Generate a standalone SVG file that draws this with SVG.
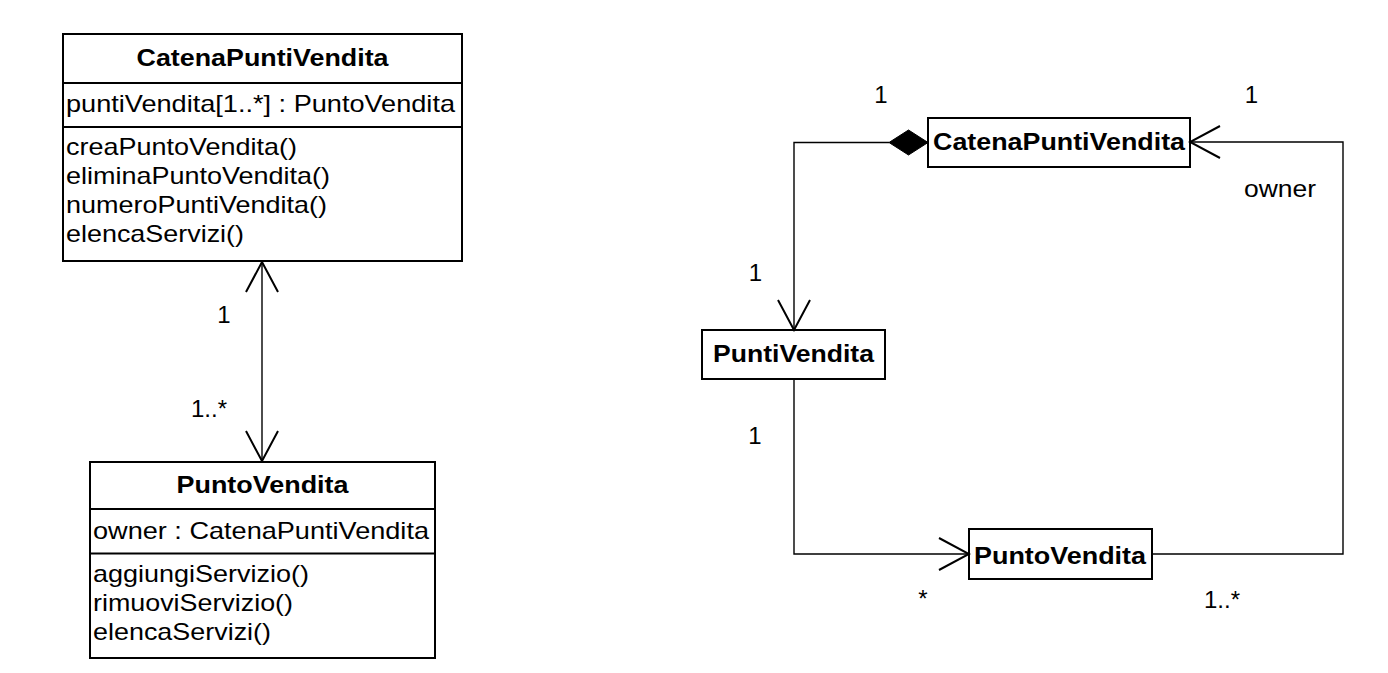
<svg xmlns="http://www.w3.org/2000/svg" width="1388" height="673" viewBox="0 0 1388 673">
<defs>
<style>
.box{fill:#fff;stroke:#000;stroke-width:2}
.div{stroke:#000;stroke-width:2}
.t{font-family:"Liberation Sans",Arial,Helvetica,sans-serif;font-size:24px;fill:#000}
.b{font-weight:bold}
.m{text-anchor:middle}
.conn{fill:none;stroke:#000;stroke-width:1.4}
</style>
<marker id="open" markerUnits="userSpaceOnUse" viewBox="0 0 34 36" refX="32" refY="18" markerWidth="34" markerHeight="36" orient="auto-start-reverse">
<path d="M2,2 L32,18 L2,34" fill="none" stroke="#000" stroke-width="2"/>
</marker>
</defs>
<rect width="1388" height="673" fill="#fff"/>

<g id="left-catena">
<rect class="box" x="63" y="34" width="399" height="227"/>
<line class="div" x1="63" y1="83" x2="462" y2="83"/>
<line class="div" x1="63" y1="127" x2="462" y2="127"/>
<text class="t b m" x="262.5" y="66" textLength="252" lengthAdjust="spacingAndGlyphs">CatenaPuntiVendita</text>
<text class="t" x="66" y="112" textLength="389" lengthAdjust="spacingAndGlyphs">puntiVendita[1..*] : PuntoVendita</text>
<text class="t" x="66" y="155" textLength="231" lengthAdjust="spacingAndGlyphs">creaPuntoVendita()</text>
<text class="t" x="66" y="184" textLength="264" lengthAdjust="spacingAndGlyphs">eliminaPuntoVendita()</text>
<text class="t" x="66" y="213" textLength="261" lengthAdjust="spacingAndGlyphs">numeroPuntiVendita()</text>
<text class="t" x="66" y="242" textLength="178" lengthAdjust="spacingAndGlyphs">elencaServizi()</text>
</g>

<g id="left-punto">
<rect class="box" x="90" y="462" width="345" height="196"/>
<line class="div" x1="90" y1="509" x2="435" y2="509"/>
<line class="div" x1="90" y1="553.5" x2="435" y2="553.5"/>
<text class="t b m" x="262.5" y="493" textLength="172" lengthAdjust="spacingAndGlyphs">PuntoVendita</text>
<text class="t" x="93" y="538.5" textLength="336" lengthAdjust="spacingAndGlyphs">owner : CatenaPuntiVendita</text>
<text class="t" x="93" y="582" textLength="216" lengthAdjust="spacingAndGlyphs">aggiungiServizio()</text>
<text class="t" x="93" y="611" textLength="200" lengthAdjust="spacingAndGlyphs">rimuoviServizio()</text>
<text class="t" x="93" y="640" textLength="178" lengthAdjust="spacingAndGlyphs">elencaServizi()</text>
</g>

<g id="right-catena">
<rect class="box" x="928" y="118" width="262" height="49"/>
<text class="t b m" x="1059" y="150" textLength="252" lengthAdjust="spacingAndGlyphs">CatenaPuntiVendita</text>
</g>

<g id="right-punti">
<rect class="box" x="702" y="330" width="183" height="49"/>
<text class="t b m" x="793.5" y="362" textLength="161" lengthAdjust="spacingAndGlyphs">PuntiVendita</text>
</g>

<g id="right-punto">
<rect class="box" x="969" y="529" width="183" height="50"/>
<text class="t b m" x="1060" y="563.5" textLength="172" lengthAdjust="spacingAndGlyphs">PuntoVendita</text>
</g>

<g id="connectors">
<path class="conn" d="M262,262 V461" marker-start="url(#open)" marker-end="url(#open)"/>
<text class="t m" x="224" y="323">1</text>
<text class="t" x="191" y="417">1..*</text>

<path class="conn" d="M889,142.5 H794 V330" marker-end="url(#open)"/>
<polygon points="889,142.5 908.5,130 928,142.5 908.5,155" fill="#000" stroke="#000" stroke-width="1"/>
<path class="conn" d="M794,379 V554 H969" marker-end="url(#open)"/>
<path class="conn" d="M1152,554 H1343 V142 H1190" marker-end="url(#open)"/>

<text class="t m" x="881" y="103">1</text>
<text class="t m" x="1251.5" y="103">1</text>
<text class="t" x="1244" y="197" textLength="72" lengthAdjust="spacingAndGlyphs">owner</text>
<text class="t m" x="755.5" y="281">1</text>
<text class="t m" x="755" y="444">1</text>
<text class="t m" x="923" y="607">*</text>
<text class="t" x="1204" y="608">1..*</text>
</g>
</svg>
